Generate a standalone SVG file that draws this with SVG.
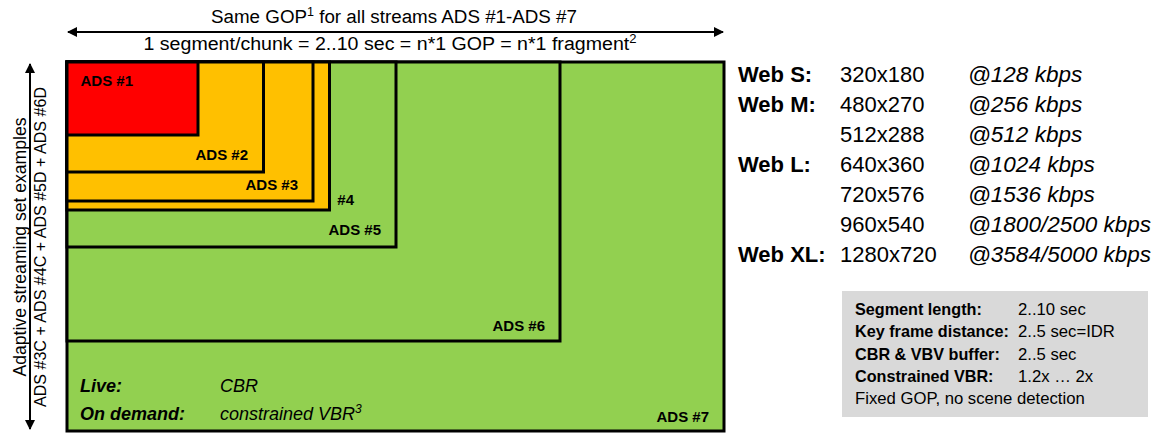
<svg xmlns="http://www.w3.org/2000/svg" width="1164" height="434" viewBox="0 0 1164 434">
<style>
text{font-family:"Liberation Sans",Arial,sans-serif;fill:#000}
.box{stroke:#000;stroke-width:3}
.red{fill:#FF0000}
.org{fill:#FFC000}
.grn{fill:#92D050}
.lbl{font-size:15px;font-weight:bold;text-anchor:end}
.t{font-size:18px}
.v1{font-size:17.5px}
.v2{font-size:16px}
.wl{font-size:22px;font-weight:bold}
.wn{font-size:22px}
.wk{font-size:22.5px;font-style:italic}
.gb{font-size:16.2px;font-weight:bold}
.gv{font-size:16.7px}
.bi{font-size:18px;font-weight:bold;font-style:italic}
.it{font-size:18px;font-style:italic}
.conn{stroke:#000;stroke-width:2;fill:none}
</style>
<defs>
<marker id="ah" viewBox="0 0 10 10" refX="9" refY="5" markerWidth="10" markerHeight="10" markerUnits="userSpaceOnUse" orient="auto-start-reverse">
<path d="M0,0 L10,5 L0,10 Z" fill="#000"/>
</marker>
</defs>
<g id="ads7"><rect class="box grn" x="67" y="62" width="657" height="369"/><text class="lbl" x="709" y="422">ADS #7</text></g>
<g id="ads6"><rect class="box grn" x="67" y="62" width="493" height="279"/><text class="lbl" x="545" y="331">ADS #6</text></g>
<g id="ads5"><rect class="box grn" x="67" y="62" width="329" height="185"/><text class="lbl" x="381" y="235">ADS #5</text></g>
<g id="ads4"><rect class="box org" x="67" y="62" width="262.5" height="148"/><text class="lbl" x="354" y="205">#4</text></g>
<g id="ads3"><rect class="box org" x="67" y="62" width="246" height="139"/><text class="lbl" x="298" y="190">ADS #3</text></g>
<g id="ads2"><rect class="box org" x="67" y="62" width="196.5" height="110"/><text class="lbl" x="248" y="160">ADS #2</text></g>
<g id="ads1"><rect class="box red" x="67" y="62" width="131" height="73"/><text class="lbl" x="133" y="86">ADS #1</text></g>
<g id="modes">
<text class="bi" x="80" y="392">Live:</text>
<text class="it" x="220" y="392">CBR</text>
<text class="bi" x="80" y="420">On demand:</text>
<text class="it" x="220" y="420">constrained VBR<tspan font-size="12" dy="-7">3</tspan></text>
</g>
<g id="connectors">
<line class="conn" x1="68" y1="32" x2="723" y2="32" marker-start="url(#ah)" marker-end="url(#ah)"/>
<line class="conn" x1="30" y1="64" x2="30" y2="429" marker-start="url(#ah)" marker-end="url(#ah)"/>
</g>
<g id="titles">
<text class="t" x="394" y="23" text-anchor="middle" textLength="366" lengthAdjust="spacingAndGlyphs">Same GOP<tspan font-size="12" dy="-7">1</tspan><tspan dy="7"> for all streams ADS #1-ADS #7</tspan></text>
<text class="t" x="390" y="50" text-anchor="middle" textLength="493" lengthAdjust="spacingAndGlyphs">1 segment/chunk = 2..10 sec = n*1 GOP = n*1 fragment<tspan font-size="12" dy="-7">2</tspan></text>
<text class="v1" transform="translate(26,247) rotate(-90)" text-anchor="middle" textLength="259" lengthAdjust="spacingAndGlyphs">Adaptive streaming set examples</text>
<text class="v2" transform="translate(46,247) rotate(-90)" text-anchor="middle" textLength="320" lengthAdjust="spacingAndGlyphs">ADS #3C + ADS #4C + ADS #5D + ADS #6D</text>
</g>
<g id="profiles">
<text class="wl" x="738" y="82">Web S:</text><text class="wn" x="840" y="82">320x180</text><text class="wk" x="968" y="82">@128 kbps</text>
<text class="wl" x="738" y="112">Web M:</text><text class="wn" x="840" y="112">480x270</text><text class="wk" x="968" y="112">@256 kbps</text>
<text class="wn" x="840" y="142">512x288</text><text class="wk" x="968" y="142">@512 kbps</text>
<text class="wl" x="738" y="172">Web L:</text><text class="wn" x="840" y="172">640x360</text><text class="wk" x="968" y="172">@1024 kbps</text>
<text class="wn" x="840" y="202">720x576</text><text class="wk" x="968" y="202">@1536 kbps</text>
<text class="wn" x="840" y="232">960x540</text><text class="wk" x="968" y="232">@1800/2500 kbps</text>
<text class="wl" x="738" y="262">Web XL:</text><text class="wn" x="840" y="262">1280x720</text><text class="wk" x="968" y="262">@3584/5000 kbps</text>
</g>
<g id="settings">
<rect x="842" y="291" width="306" height="126" fill="#D9D9D9"/>
<text class="gb" x="855" y="315">Segment length:</text><text class="gv" x="1018" y="315">2..10 sec</text>
<text class="gb" x="855" y="337">Key frame distance:</text><text class="gv" x="1018" y="337">2..5 sec=IDR</text>
<text class="gb" x="855" y="360">CBR &amp; VBV buffer:</text><text class="gv" x="1018" y="360">2..5 sec</text>
<text class="gb" x="855" y="382">Constrained VBR:</text><text class="gv" x="1018" y="382">1.2x … 2x</text>
<text class="gv" x="855" y="404">Fixed GOP, no scene detection</text>
</g>
</svg>
